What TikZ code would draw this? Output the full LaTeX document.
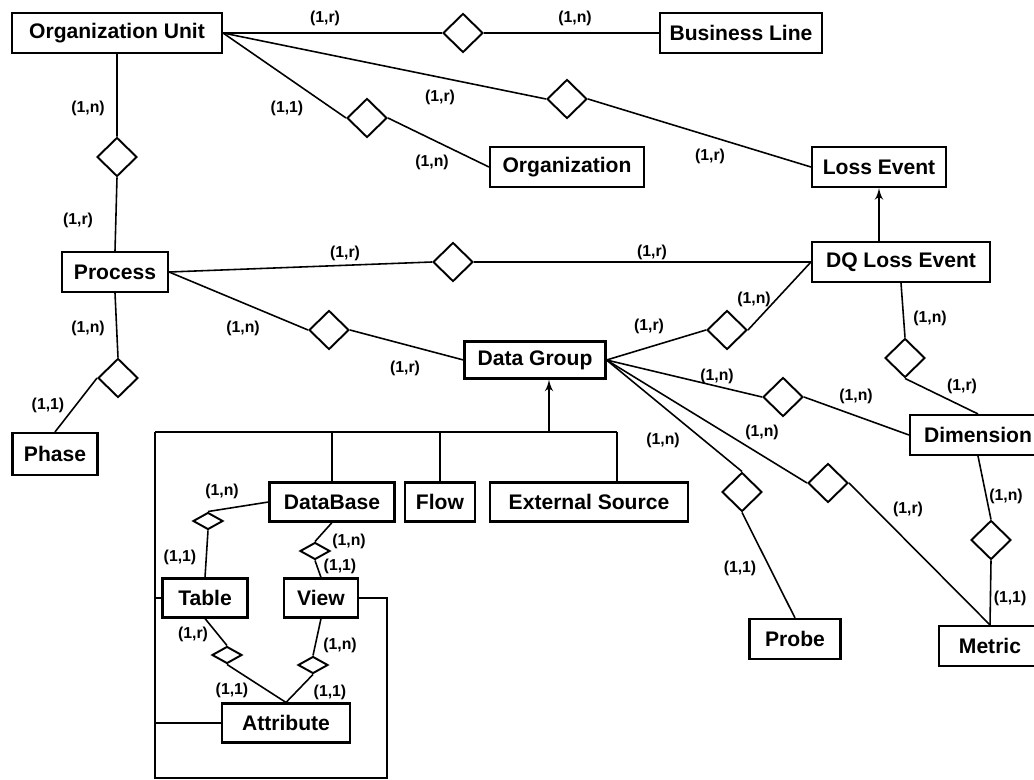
\documentclass[tikz,border=0pt]{standalone}
\usepackage{fontspec}
\setmainfont{Liberation Sans}
\usetikzlibrary{arrows,shapes.geometric}

\tikzset{
  entity/.style   = {draw, line width=1.2pt, minimum height=0.8cm, inner sep=2pt,
                     font=\fontsize{12}{14}\selectfont\bfseries},
  rel/.style      = {draw, diamond, line width=1.1pt, inner sep=0pt,
                     minimum width=0.8cm, minimum height=0.78cm},
  smallrel/.style = {rel, minimum width=0.6cm, minimum height=0.34cm},
  card/.style     = {inner sep=0pt, font=\fontsize{9}{10}\selectfont\bfseries},
  link/.style     = {line width=0.9pt},
  isa/.style      = {line width=1.3pt}
}

\begin{document}
\begin{tikzpicture}[>=latex', x=0.02cm, y=-0.02cm]
  \clip (0,0) rectangle (1034,780);
  % entities
  \node[entity, minimum width=4.2cm]  (ou)     at (117,33)  {Organization Unit};
  \node[entity, minimum width=3.24cm] (bl)     at (741,33)  {Business Line};
  \node[entity, minimum width=3.08cm] (org)    at (567,167) {Organization};
  \node[entity, minimum width=2.68cm] (loss)   at (879,167) {Loss Event};
  \node[entity, minimum width=2.12cm] (proc)   at (115,272) {Process};
  \node[entity, minimum width=3.56cm] (dq)     at (901,262) {DQ Loss Event};
  \node[entity, minimum width=2.82cm, minimum height=0.74cm] (dg) at (535,360) {Data Group};
  \node[entity, minimum width=2.72cm] (dim)    at (978,435) {Dimension};
  \node[entity, minimum width=1.7cm, minimum height=0.84cm] (phase) at (55,454) {Phase};
  \node[entity, minimum width=2.5cm,  minimum height=0.78cm] (db)   at (332,502) {DataBase};
  \node[entity, minimum width=1.4cm,  minimum height=0.78cm] (flow) at (440,502) {Flow};
  \node[entity, minimum width=3.96cm, minimum height=0.78cm] (ext)  at (589,502) {External Source};
  \node[entity, minimum width=1.7cm,  minimum height=0.78cm] (tab)  at (205,598) {Table};
  \node[entity, minimum width=1.48cm, minimum height=0.78cm] (view) at (321,598) {View};
  \node[entity, minimum width=2.56cm, minimum height=0.78cm] (attr) at (286,723) {Attribute};
  \node[entity, minimum width=1.82cm] (probe)  at (795,639) {Probe};
  \node[entity, minimum width=2.04cm] (metric) at (990,646) {Metric};

  % relationships
  \node[rel] (rOuBl)   at (463,33)  {};
  \node[rel] (rOuOrg)  at (367,118) {};
  \node[rel] (rOuLoss) at (567,99)  {};
  \node[rel] (rOuProc) at (117,157) {};
  \node[rel] (rProcDq) at (453,262) {};
  \node[rel] (rProcDg) at (329,330) {};
  \node[rel] (rProcPh) at (118,378) {};
  \node[rel] (rDgDq)   at (727,330) {};
  \node[rel] (rDqDim)  at (905,358) {};
  \node[rel] (rDgDim)  at (783,397) {};
  \node[rel] (rDgPrb)  at (742,492) {};
  \node[rel] (rDgMet)  at (828,483) {};
  \node[rel] (rDimMet) at (991,540) {};
  \node[smallrel] (rDbTab)    at (208,521) {};
  \node[smallrel] (rDbView)   at (315,551) {};
  \node[smallrel] (rTabAttr)  at (227,655) {};
  \node[smallrel] (rViewAttr) at (313,665) {};

  \draw[link] (ou.east) -- (rOuBl.west)   (rOuBl.east) -- (bl.west);
  \draw[link] (ou.east) -- (rOuOrg.west)  (rOuOrg.east) -- (org.west);
  \draw[link] (ou.east) -- (rOuLoss.west) (rOuLoss.east) -- (loss.west);
  \draw[link] (ou.south) -- (rOuProc.north) (rOuProc.south) -- (proc.north);
  \draw[link] (proc.east) -- (rProcDq.west) (rProcDq.east) -- (dq.west);
  \draw[link] (proc.east) -- (rProcDg.west) (rProcDg.east) -- (dg.west);
  \draw[link] (proc.south) -- (rProcPh.north) (rProcPh.west) -- (phase.north);
  \draw[link] (dg.east) -- (rDgDq.west)  (rDgDq.east) -- (dq.west);
  \draw[link] (dq.south) -- (rDqDim.north) (rDqDim.south) -- (dim.north);
  \draw[link] (dg.east) -- (rDgDim.west) (rDgDim.east) -- (dim.west);
  \draw[link] (dg.east) -- (rDgPrb.north) (rDgPrb.south) -- (probe.north);
  \draw[link] (dg.east) -- (rDgMet.west) (rDgMet.east) -- (metric.north);
  \draw[link] (dim.south) -- (rDimMet.north) (rDimMet.south) -- (metric.north);
  \draw[link] (db.west) -- (rDbTab.north) (rDbTab.south) -- (tab.north);
  \draw[link] (db.south) -- (rDbView.north) (rDbView.south) -- (view.north);
  \draw[link] (tab.south) -- (rTabAttr.north) (rTabAttr.south) -- (attr.north);
  \draw[link] (view.south) -- (rViewAttr.north) (rViewAttr.south) -- (attr.north);

  % generalizations
  \coordinate (gl)  at (155,432);
  \coordinate (gr)  at (617,432);
  \coordinate (gup) at (549,432);
  \coordinate (fbl) at (155,778);
  \coordinate (fbr) at (387,778);
  \draw[isa,->] (loss.south |- dq.north) -- (loss.south);
  \draw[isa,->] (gup) -- (gup |- dg.south);
  \draw[isa] (gl) -- (gr);
  \draw[isa] (db.north) -- (db.north |- gl);
  \draw[isa] (flow.north) -- (flow.north |- gl);
  \draw[isa] (ext.north -| gr) -- (gr);
  \draw[isa] (gl) -- (fbl) -- (fbr) |- (view.east);
  \draw[isa] (tab.west) -- (tab.west -| gl);
  \draw[isa] (attr.west) -- (attr.west -| gl);

  % cardinalities
  \node[card] (c1)  at (325,18)  {(1,r)};
  \node[card] (c2)  at (575,18)  {(1,n)};
  \node[card] (c3)  at (287,108) {(1,1)};
  \node[card] (c4)  at (432,162) {(1,n)};
  \node[card] (c5)  at (440,97)  {(1,r)};
  \node[card] (c6)  at (710,156) {(1,r)};
  \node[card] (c7)  at (88,108)  {(1,n)};
  \node[card] (c8)  at (78,220)  {(1,r)};
  \node[card] (c9)  at (345,253) {(1,r)};
  \node[card] (c10) at (652,252) {(1,r)};
  \node[card] (c11) at (88,328)  {(1,n)};
  \node[card] (c12) at (48,405)  {(1,1)};
  \node[card] (c13) at (243,328) {(1,n)};
  \node[card] (c14) at (405,368) {(1,r)};
  \node[card] (c15) at (649,326) {(1,r)};
  \node[card] (c16) at (754,299) {(1,n)};
  \node[card] (c17) at (930,318) {(1,n)};
  \node[card] (c18) at (962,386) {(1,r)};
  \node[card] (c19) at (717,376) {(1,n)};
  \node[card] (c20) at (856,396) {(1,n)};
  \node[card] (c21) at (663,440) {(1,n)};
  \node[card] (c22) at (740,568) {(1,1)};
  \node[card] (c23) at (762,432) {(1,n)};
  \node[card] (c24) at (908,509) {(1,r)};
  \node[card] (c25) at (1006,496) {(1,n)};
  \node[card] (c26) at (1010,598) {(1,1)};
  \node[card] (c27) at (222,491) {(1,n)};
  \node[card] (c28) at (180,557) {(1,1)};
  \node[card] (c29) at (349,541) {(1,n)};
  \node[card] (c30) at (340,566) {(1,1)};
  \node[card] (c31) at (193,634) {(1,r)};
  \node[card] (c32) at (340,645) {(1,n)};
  \node[card] (c33) at (232,690) {(1,1)};
  \node[card] (c34) at (330,692) {(1,1)};
\end{tikzpicture}
\end{document}
